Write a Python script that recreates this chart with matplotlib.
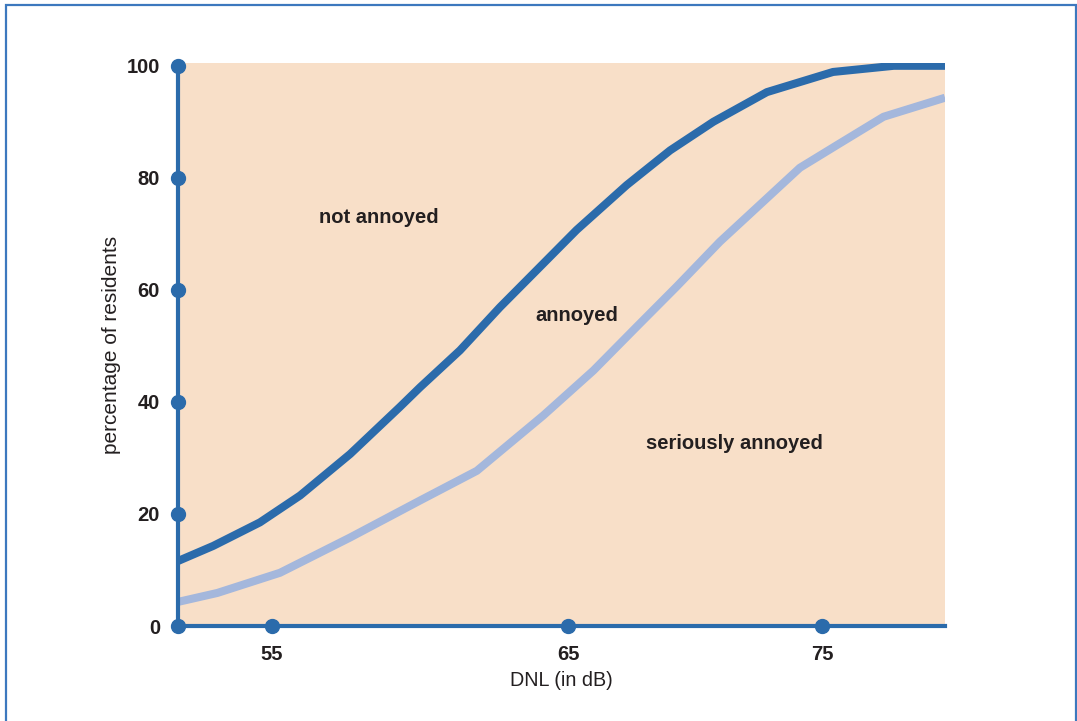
import numpy as np
import matplotlib
matplotlib.use("Agg")
import matplotlib.pyplot as plt
from matplotlib.patches import Rectangle

plt.rcParams["font.family"] = ["Liberation Sans", "DejaVu Sans"]

# DNL (dB) and percentage of residents
UPPER_DNL = [51.8, 53.0, 54.59, 55.95, 57.64, 59.32, 60.0, 61.35, 62.7,
             63.94, 65.34, 67.31, 69.02, 70.72, 72.83, 75.43, 77.8, 79.8]
UPPER_PCT = [11.6, 14.3, 18.5, 23.3, 30.7, 39.1, 42.6, 49.2, 56.9,
             63.5, 70.7, 78.7, 84.9, 90.0, 95.3, 98.9, 100.0, 100.0]

LOWER_DNL = [51.8, 53.14, 55.27, 57.64, 60.0, 61.92, 64.17, 66.0,
             67.7, 69.28, 70.98, 74.13, 75.71, 77.4, 79.8]
LOWER_PCT = [4.3, 5.9, 9.5, 15.8, 22.4, 27.7, 37.6, 45.6,
             53.4, 60.6, 68.6, 81.8, 86.2, 90.9, 94.3]

X_TICKS = [55, 65, 75]
Y_TICKS = [0, 20, 40, 60, 80, 100]
REGION_LABELS = ["not annoyed", "annoyed", "seriously annoyed"]

DARK_BLUE = "#2B6BAB"
LIGHT_BLUE = "#A4B7DC"
PEACH = "#F8DFC8"
TEXT = "#231F20"

# the drawn x axis is not evenly spaced in the original
SCALE_DNL = [51.8, 55, 65, 75, 79.8]
SCALE_POS = [0, 94, 390, 644, 767]


def forward(x):
    return np.interp(x, SCALE_DNL, SCALE_POS)


def inverse(p):
    return np.interp(p, SCALE_POS, SCALE_DNL)


fig = plt.figure(figsize=(10.77, 7.21), dpi=100)
ax = fig.add_axes([178 / 1077, 95 / 721, 767 / 1077, 563 / 721])
ax.set_xscale("function", functions=(forward, inverse))
ax.set_xlim(51.8, 79.8)
ax.set_ylim(0, 100.5)
ax.set_facecolor(PEACH)

ax.plot(LOWER_DNL, LOWER_PCT, color=LIGHT_BLUE, lw=5.8,
        solid_capstyle="butt", solid_joinstyle="round", zorder=2)
ax.plot(UPPER_DNL, UPPER_PCT, color=DARK_BLUE, lw=5.8,
        solid_capstyle="butt", solid_joinstyle="round", zorder=3)

for side in ["top", "right"]:
    ax.spines[side].set_visible(False)
for side in ["left", "bottom"]:
    ax.spines[side].set_color(DARK_BLUE)
    ax.spines[side].set_linewidth(3)
    ax.spines[side].set_zorder(4)

# round tick markers on the axes
ax.plot([51.8] * len(Y_TICKS), Y_TICKS, "o", color=DARK_BLUE, ms=10,
        clip_on=False, zorder=5)
ax.plot(X_TICKS, [0] * len(X_TICKS), "o", color=DARK_BLUE, ms=10,
        clip_on=False, zorder=5)

ax.set_xticks(X_TICKS)
ax.set_xticklabels([str(t) for t in X_TICKS])
ax.set_yticks(Y_TICKS)
ax.set_yticklabels([str(t) for t in Y_TICKS])
ax.tick_params(length=0, labelsize=14.5, colors=TEXT)
ax.tick_params(axis="x", pad=14)
ax.tick_params(axis="y", pad=13)
for lab in ax.get_xticklabels() + ax.get_yticklabels():
    lab.set_fontweight("bold")

ax.set_xlabel("DNL (in dB)", fontsize=14.2, color=TEXT, labelpad=5)
ax.set_ylabel("percentage of residents", fontsize=15, color=TEXT, labelpad=4)

label_pos = [(0.262, 0.726), (0.520, 0.552), (0.726, 0.325)]
for text, (x, y) in zip(REGION_LABELS, label_pos):
    ax.text(x, y, text, transform=ax.transAxes, ha="center", va="center",
            fontsize=14.5, fontweight="bold", color=TEXT)

frame = Rectangle((5.5 / 1077, -0.05), 1070 / 1077, 0.05 + 715.5 / 721,
                  transform=fig.transFigure, fill=False, edgecolor="#3C78BE",
                  lw=1.6, clip_on=False)
fig.patches.append(frame)

fig.savefig("out.png", dpi=100)
